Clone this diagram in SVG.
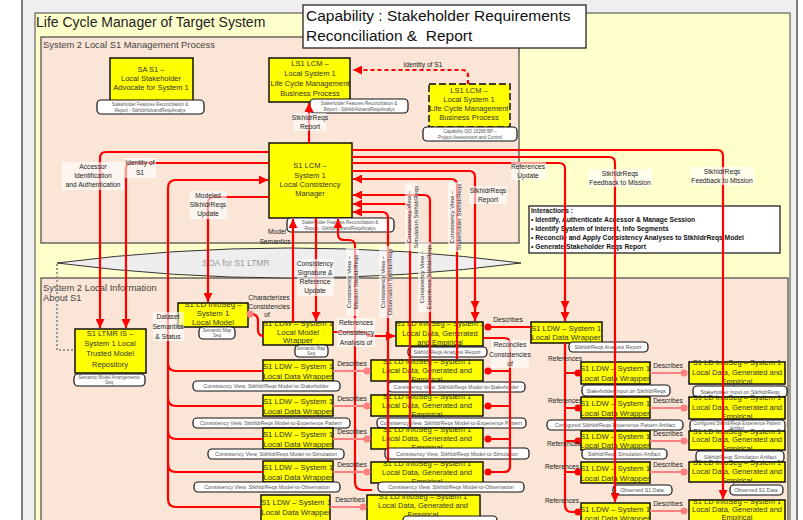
<svg xmlns="http://www.w3.org/2000/svg" width="803" height="520" viewBox="0 0 803 520">
<defs>
<style>
text{font-family:"Liberation Sans",Arial,sans-serif}
.nd{fill:#ffff00;stroke:#000;stroke-width:1.4}
.ndd{fill:#ffff00;stroke:#000;stroke-width:1.4;stroke-dasharray:7 3}
.nt{fill:#333;text-anchor:middle;font-size:7.5px}
.wt{fill:#333;text-anchor:middle;font-size:7.8px}
.lb{fill:#fff;stroke:#111;stroke-width:1.2}
.lt{fill:#555;text-anchor:middle;font-size:5.3px}
.ls{fill:#555;text-anchor:middle;font-size:4.5px}
.e{fill:none;stroke:#f00;stroke-width:2.2}
.ed{fill:none;stroke:#ff8080;stroke-width:2}
.el{fill:#222;font-size:6.7px;text-anchor:middle}
.vl{fill:#222;font-size:6px;text-anchor:middle}
.bg{fill:#fff;fill-opacity:.6}
</style>
<marker id="ah" viewBox="0 0 10 10" refX="10" refY="5" markerWidth="10" markerHeight="9" markerUnits="userSpaceOnUse" orient="auto"><path d="M0,0L10,5L0,10z" fill="#f00"/></marker>
<marker id="pd" viewBox="0 0 8 8" refX="4" refY="4" markerWidth="8" markerHeight="8" markerUnits="userSpaceOnUse"><circle cx="4" cy="4" r="3.5" fill="#ff8080"/></marker>
<marker id="rd" viewBox="0 0 8 8" refX="4" refY="4" markerWidth="8" markerHeight="8" markerUnits="userSpaceOnUse"><circle cx="4" cy="4" r="3.5" fill="#f00"/></marker>
</defs>

<!-- frames and panels -->
<rect x="0" y="0" width="803" height="520" fill="#fff"/>
<rect x="22" y="-4" width="775" height="530" fill="#efefef" stroke="#7f7f7f" stroke-width="2"/>
<rect x="35" y="13" width="755" height="520" fill="#ffffcc" stroke="#444" stroke-width="1"/>
<text x="36" y="27" font-size="14" fill="#222">Life Cycle Manager of Target System</text>
<rect x="41" y="37" width="478" height="206" fill="#fbe5d6" stroke="#444" stroke-width="1.2"/>
<text x="43" y="48" font-size="9.4" fill="#444">System 2 Local S1 Management Process</text>
<rect x="41" y="278" width="747" height="250" fill="#fbe5d6" stroke="#444" stroke-width="1.2"/>
<text x="43" y="291" font-size="9.4" fill="#444">System 2 Local Information</text>
<text x="43" y="301" font-size="9.4" fill="#444">About S1</text>
<path d="M57,263 Q290,233 521,263 Q290,293 57,263 Z" fill="#eeeeee" stroke="#333" stroke-width="1"/>
<text x="236" y="266" font-size="8.5" fill="#999" text-anchor="middle">SOA for S1 LTMR</text>
<path d="M57,264 V350 H76" fill="none" stroke="#999" stroke-width="2" stroke-dasharray="2 2"/>

<!-- interactions note -->
<g id="interactions">
<rect x="529" y="206" width="251" height="47" fill="#fff" stroke="#222" stroke-width="1.3"/>
<g font-size="6.7" font-weight="bold" fill="#111">
<text x="531" y="213">Interactions :</text>
<text x="531" y="222">• Identify, Authenticate Accessor &amp; Manage Session</text>
<text x="531" y="231">• Identify System of Interest, Info Segments</text>
<text x="531" y="240">• Reconcile and Apply Consistency Analyses to StkhldrReqs Model</text>
<text x="531" y="249">• Generate Stakeholder Reqs Report</text>
</g>
</g>

<!-- management process nodes -->
<g id="sa-s1">
<rect class="nd" x="110" y="58" width="83" height="44"/>
<text class="nt" x="151" y="72">SA S1 –</text>
<text class="nt" x="151" y="81">Local Stakeholder</text>
<text class="nt" x="151" y="90">Advocate for System 1</text>
<rect class="lb" x="97" y="100" width="107" height="14" rx="4"/>
<text class="ls" x="150" y="106">Stakeholder Features Reconciliation &amp;</text>
<text class="ls" x="150" y="111.5">Report - StkhldrAdvandReqsAnalys</text>
</g>
<g id="ls1-lcm">
<rect class="nd" x="269" y="58" width="81" height="44"/>
<text class="nt" x="310" y="66">LS1 LCM –</text>
<text class="nt" x="310" y="76">Local System 1</text>
<text class="nt" x="310" y="86">Life Cycle Management</text>
<text class="nt" x="310" y="96">Business Process</text>
<rect class="lb" x="310" y="99" width="98" height="14" rx="4"/>
<text class="ls" x="359" y="105">Stakeholder Features Reconciliation &amp;</text>
<text class="ls" x="359" y="110.5">Report - StkhldrAdvandReqsAnalys</text>
</g>
<g id="ls1-lcm-bp">
<rect class="ndd" x="429" y="84" width="81" height="43"/>
<text class="nt" x="469" y="93">LS1 LCM –</text>
<text class="nt" x="469" y="102">Local System 1</text>
<text class="nt" x="469" y="111">Life Cycle Management</text>
<text class="nt" x="469" y="120">Business Process</text>
<rect class="lb" x="423" y="127" width="94" height="14" rx="4"/>
<text class="ls" x="470" y="133">Capability ISO 15288 BP –</text>
<text class="ls" x="470" y="138.5">Project Assessment and Control</text>
</g>
<g id="s1-lcm">
<rect class="nd" x="269" y="143" width="83" height="75"/>
<text class="nt" x="310" y="168" font-size="8">S1 LCM –</text>
<text class="nt" x="310" y="178" font-size="8">System 1</text>
<text class="nt" x="310" y="187" font-size="8">Local Consistency</text>
<text class="nt" x="310" y="196" font-size="8">Manager</text>
<rect class="lb" x="287" y="218" width="107" height="14" rx="4"/>
<text class="ls" x="340" y="224">Stakeholder Features Reconciliation &amp;</text>
<text class="ls" x="340" y="229.5">Report - StkhldrAdvandReqsAnalys</text>
</g>

<!-- local information nodes -->
<g id="s1-ltmr">
<rect class="nd" x="75" y="329" width="71" height="44"/>
<text class="nt" x="110" y="336" font-size="8">S1 LTMR IS –</text>
<text class="nt" x="110" y="346" font-size="8">System 1 Local</text>
<text class="nt" x="110" y="356" font-size="8">Trusted Model</text>
<text class="nt" x="110" y="367" font-size="8">Repository</text>
<rect class="lb" x="74" y="374" width="71" height="12" rx="4"/>
<text class="ls" x="109" y="379">Semantic Model Arrangements</text>
<text class="ls" x="109" y="384">Seq</text>
</g>
<g id="ld-local-model">
<rect class="nd" x="178" y="303" width="70" height="24"/>
<text class="wt" x="213" y="307">S1 LD InfoSeg –</text>
<text class="wt" x="213" y="316">System 1</text>
<text class="wt" x="213" y="325">Local Model</text>
<rect class="lb" x="199" y="327" width="36" height="12" rx="4"/>
<text class="ls" x="217" y="332">Semantic Map</text>
<text class="ls" x="217" y="337">Seq</text>
</g>
<g id="ldw-local-model">
<rect class="nd" x="263" y="322" width="70" height="23"/>
<text class="wt" x="298" y="326">S1 LDW – System 1</text>
<text class="wt" x="298" y="335">Local Model</text>
<text class="wt" x="298" y="343">Wrapper</text>
<rect class="lb" x="295" y="345" width="33" height="12" rx="4"/>
<text class="ls" x="311" y="350">Semantic Map</text>
<text class="ls" x="311" y="355">Seq</text>
</g>

<!-- wrapper column -->
<g id="ldw-a1">
<rect class="nd" x="263" y="360" width="70" height="21"/>
<text class="wt" x="298" y="369">S1 LDW – System 1</text>
<text class="wt" x="298" y="379">Local Data Wrapper</text>
<rect class="lb" x="193" y="381" width="147" height="10" rx="4"/>
<text class="lt" x="266" y="388">Consistency View, StkhldrReqs Model-to-Stakeholder</text>
</g>
<g id="ldw-a2">
<rect class="nd" x="263" y="395" width="70" height="21"/>
<text class="wt" x="298" y="404">S1 LDW – System 1</text>
<text class="wt" x="298" y="414">Local Data Wrapper</text>
<rect class="lb" x="193" y="418" width="157" height="10" rx="4"/>
<text class="lt" x="271" y="425">Consistency View, StkhldrReqs Model-to-Experience Pattern</text>
</g>
<g id="ldw-a3">
<rect class="nd" x="263" y="428" width="70" height="21"/>
<text class="wt" x="298" y="437">S1 LDW – System 1</text>
<text class="wt" x="298" y="447">Local Data Wrapper</text>
<rect class="lb" x="208" y="449" width="136" height="10" rx="4"/>
<text class="lt" x="276" y="456">Consistency View, StkhldrReqs Model-to-Simulation</text>
</g>
<g id="ldw-a4">
<rect class="nd" x="263" y="461" width="70" height="21"/>
<text class="wt" x="298" y="470">S1 LDW – System 1</text>
<text class="wt" x="298" y="480">Local Data Wrapper</text>
<rect class="lb" x="194" y="482" width="146" height="10" rx="4"/>
<text class="lt" x="267" y="489">Consistency View, StkhldrReqs Model-to-Observation</text>
</g>
<g id="ldw-a5">
<rect class="nd" x="261" y="495" width="69" height="28"/>
<text class="wt" x="296" y="505">S1 LDW – System 1</text>
<text class="wt" x="296" y="515">Local Data Wrapper</text>
</g>

<!-- info segment column -->
<g id="ld-b0">
<rect class="nd" x="396" y="322" width="87" height="24"/>
<text class="nt" x="440" y="326">S1 LD InfoSeg – System 1</text>
<text class="nt" x="440" y="336">Local Data, Generated</text>
<text class="nt" x="440" y="345">and Empirical</text>
<rect class="lb" x="408" y="347" width="79" height="10" rx="4"/>
<text class="lt" x="447" y="354">StkhldrReqs Analysis Report</text>
</g>
<g id="ld-b1">
<rect class="nd" x="371" y="360" width="112" height="21"/>
<text class="nt" x="427" y="364">S1 LD InfoSeg – System 1</text>
<text class="nt" x="427" y="373">Local Data, Generated and</text>
<text class="nt" x="427" y="382">Empirical</text>
<rect class="lb" x="388" y="382" width="137" height="10" rx="4"/>
<text class="lt" x="456" y="389">Consistency View, StkhldrReqs Model-to-Stakeholder</text>
</g>
<g id="ld-b2">
<rect class="nd" x="371" y="395" width="112" height="21"/>
<text class="nt" x="427" y="399">S1 LD InfoSeg – System 1</text>
<text class="nt" x="427" y="408">Local Data, Generated and</text>
<text class="nt" x="427" y="417">Empirical</text>
<rect class="lb" x="377" y="418" width="149" height="10" rx="4"/>
<text class="lt" x="451" y="425">Consistency View, StkhldrReqs Model-to-Experience Pattern</text>
</g>
<g id="ld-b3">
<rect class="nd" x="371" y="428" width="112" height="21"/>
<text class="nt" x="427" y="432">S1 LD InfoSeg – System 1</text>
<text class="nt" x="427" y="441">Local Data, Generated and</text>
<text class="nt" x="427" y="450">Empirical</text>
<rect class="lb" x="385" y="448" width="144" height="11" rx="4"/>
<text class="lt" x="457" y="455.5">Consistency View, StkhldrReqs Model-to-Simulation</text>
</g>
<g id="ld-b4">
<rect class="nd" x="371" y="462" width="112" height="21"/>
<text class="nt" x="427" y="466">S1 LD InfoSeg – System 1</text>
<text class="nt" x="427" y="475">Local Data, Generated and</text>
<text class="nt" x="427" y="484">Empirical</text>
<rect class="lb" x="378" y="482" width="146" height="10" rx="4"/>
<text class="lt" x="451" y="489">Consistency View, StkhldrReqs Model-to-Observation</text>
</g>
<g id="ld-b5">
<rect class="nd" x="367" y="495" width="113" height="26"/>
<text class="nt" x="423" y="499">S1 LD InfoSeg – System 1</text>
<text class="nt" x="423" y="508">Local Data, Generated and</text>
<text class="nt" x="423" y="517">Empirical</text>
<rect class="lb" x="403" y="516" width="94" height="10" rx="4"/>
</g>

<!-- right wrapper column -->
<g id="ldw-c0">
<rect class="nd" x="531" y="322" width="71" height="21"/>
<text class="wt" x="566" y="331">S1 LDW – System 1</text>
<text class="wt" x="566" y="340">Local Data Wrapper</text>
<rect class="lb" x="569" y="342" width="79" height="10" rx="4"/>
<text class="lt" x="608" y="349">StkhldrReqs Analysis Report</text>
</g>
<g id="ldw-c1">
<rect class="nd" x="581" y="362" width="69" height="22"/>
<text class="wt" x="615" y="371">S1 LDW – System 1</text>
<text class="wt" x="615" y="381">Local Data Wrapper</text>
<rect class="lb" x="582" y="385" width="88" height="11" rx="4"/>
<text class="lt" x="626" y="392.5">Stakeholder Input on StkhldrReqs</text>
</g>
<g id="ldw-c2">
<rect class="nd" x="581" y="397" width="69" height="21"/>
<text class="wt" x="615" y="406">S1 LDW – System 1</text>
<text class="wt" x="615" y="416">Local Data Wrapper</text>
<rect class="lb" x="547" y="420" width="136" height="10" rx="4"/>
<text class="lt" x="615" y="427">Configured StkhldrReqs Experience Pattern Artifact</text>
</g>
<g id="ldw-c3">
<rect class="nd" x="581" y="431" width="69" height="19"/>
<text class="wt" x="615" y="439">S1 LDW – System 1</text>
<text class="wt" x="615" y="448">Local Data Wrapper</text>
<rect class="lb" x="582" y="449" width="85" height="10" rx="4"/>
<text class="lt" x="624" y="456">StkhldrReqs Simulation Artifact</text>
</g>
<g id="ldw-c4">
<rect class="nd" x="581" y="462" width="69" height="21"/>
<text class="wt" x="615" y="471">S1 LDW – System 1</text>
<text class="wt" x="615" y="481">Local Data Wrapper</text>
<rect class="lb" x="613" y="485" width="59" height="10" rx="4"/>
<text class="lt" x="642" y="492">Observed S1 Data</text>
</g>
<g id="ldw-c5">
<rect class="nd" x="581" y="503" width="69" height="22"/>
<text class="wt" x="615" y="512">S1 LDW – System 1</text>
<text class="wt" x="615" y="521">Local Data Wrapper</text>
</g>

<!-- right info segment column -->
<g id="ld-d1">
<rect class="nd" x="689" y="362" width="96" height="22"/>
<text class="nt" x="737" y="365">S1 LD InfoSeg – System 1</text>
<text class="nt" x="737" y="375">Local Data, Generated and</text>
<text class="nt" x="737" y="384">Empirical</text>
<rect class="lb" x="693" y="386" width="94" height="11" rx="4"/>
<text class="lt" x="740" y="393.5">Stakeholder Input on StkhldrReqs</text>
</g>
<g id="ld-d2">
<rect class="nd" x="689" y="397" width="96" height="22"/>
<text class="nt" x="737" y="400">S1 LD InfoSeg – System 1</text>
<text class="nt" x="737" y="410">Local Data, Generated and</text>
<text class="nt" x="737" y="418.5">Empirical</text>
<rect class="lb" x="690" y="420" width="95" height="12" rx="4"/>
<text class="ls" x="737" y="425" font-size="4.2">Configured StkhldrReqs Experience Pattern</text>
<text class="ls" x="737" y="430" font-size="4.2">Artifact</text>
</g>
<g id="ld-d3">
<rect class="nd" x="689" y="431" width="96" height="19"/>
<text class="nt" x="737" y="434">S1 LD InfoSeg – System 1</text>
<text class="nt" x="737" y="442">Local Data, Generated and</text>
<text class="nt" x="737" y="450.5">Empirical</text>
<rect class="lb" x="696" y="451" width="88" height="11" rx="4"/>
<text class="lt" x="740" y="458.5">StkhldrReqs Simulation Artifact</text>
</g>
<g id="ld-d4">
<rect class="nd" x="689" y="462" width="96" height="20"/>
<text class="nt" x="737" y="465">S1 LD InfoSeg – System 1</text>
<text class="nt" x="737" y="474">Local Data, Generated and</text>
<text class="nt" x="737" y="483">Empirical</text>
<rect class="lb" x="730" y="485" width="53" height="10" rx="4"/>
<text class="lt" x="756" y="492">Observed S1 Data</text>
</g>
<g id="ld-d5">
<rect class="nd" x="689" y="500" width="96" height="25"/>
<text class="nt" x="737" y="504">S1 LD InfoSeg – System 1</text>
<text class="nt" x="737" y="512">Local Data, Generated and</text>
<text class="nt" x="737" y="520">Empirical</text>
</g>

<!-- connectors -->
<g id="connectors">
<path class="e" d="M309,143 V103" marker-end="url(#ah)"/>
<path class="e" stroke-dasharray="4 3" d="M468,84 V76 Q468,70 462,70 H353" marker-end="url(#ah)"/>
<path class="e" d="M269,152 H106 Q100,152 100,158 V328" marker-end="url(#ah)"/>
<path class="e" d="M269,163 H132 Q126,163 126,169 V328" marker-end="url(#ah)"/>
<path class="e" d="M261,507 H176 Q168,507 168,499 V188 Q168,180 176,180 H268" marker-end="url(#ah)"/>
<path class="e" d="M168,363 Q168,371 176,371 H263 M168,398 Q168,406 176,406 H263 M168,431 Q168,439 176,439 H263 M168,464 Q168,472 176,472 H263"/>
<path class="e" d="M269,197 H214 Q208,197 208,203 V302" marker-end="url(#ah)"/>
<path class="e" d="M316,218 V321" marker-end="url(#ah)"/>
<path class="e" d="M293,322 V219" marker-end="url(#ah)"/>
<path class="e" d="M251,314 Q258,314 258,321 V330 Q258,336 264,336"/>
<circle cx="250" cy="314" r="3.5" fill="#ff8080"/>
<path class="e" d="M333,332 H361 Q366,332 368,336 H395" marker-end="url(#ah)"/>
<path class="e" d="M372,490 H363 Q355,490 355,482 V246 Q355,240 349,240 H344 Q338,240 338,234 V219" marker-end="url(#ah)"/>
<path class="e" d="M388,461 V218 Q388,212 382,212 H353" marker-end="url(#ah)"/>
<path class="e" d="M410,427 V210 Q410,204 404,204 H353" marker-end="url(#ah)"/>
<path class="e" d="M430,394 V201 Q430,195 424,195 H353" marker-end="url(#ah)"/>
<path class="e" d="M457,359 V185 Q457,179 451,179 H353" marker-end="url(#ah)"/>
<path class="e" d="M352,171 H469 Q475,171 475,177 V321" marker-end="url(#ah)"/>
<path class="e" d="M475,300 V310" marker-end="url(#ah)"/>
<path class="e" d="M352,163 H559 Q565,163 565,169 V321" marker-end="url(#ah)"/>
<path class="e" d="M565,300 V310" marker-end="url(#ah)"/>
<path class="e" d="M352,157 H609 Q615,157 615,163 V502" marker-end="url(#ah)"/>
<path class="e" d="M352,150 H717 Q723,150 723,156 V499" marker-end="url(#ah)"/>
<!-- references bus -->
<path class="e" d="M565,343 V505 Q565,512 572,512 H578" marker-end="url(#rd)"/>
<path class="e" d="M565,373 H578 M565,408 H578 M565,441 H578 M565,472 H578"/>
<g fill="#f00"><circle cx="578" cy="373" r="3.5"/><circle cx="578" cy="408" r="3.5"/><circle cx="578" cy="441" r="3.5"/><circle cx="578" cy="472" r="3.5"/></g>
<!-- reconciles bus -->
<path class="e" d="M483,338 H504 Q510,338 510,344 V466 Q510,472 504,472 H488" marker-end="url(#rd)"/>
<path class="e" d="M510,371 H488 M510,406 H488 M510,439 H488"/>
<g fill="#f00"><circle cx="488" cy="371" r="3.5"/><circle cx="488" cy="406" r="3.5"/><circle cx="488" cy="439" r="3.5"/></g>
<path class="e" d="M531,327 H488" marker-end="url(#rd)"/>
<!-- describes links -->
<path class="ed" d="M333,371 H367" marker-end="url(#pd)"/>
<path class="ed" d="M333,406 H367" marker-end="url(#pd)"/>
<path class="ed" d="M333,439 H367" marker-end="url(#pd)"/>
<path class="ed" d="M333,472 H367" marker-end="url(#pd)"/>
<path class="ed" d="M330,507 H363" marker-end="url(#pd)"/>
<path class="ed" d="M650,373 H684" marker-end="url(#pd)"/>
<path class="ed" d="M650,408 H684" marker-end="url(#pd)"/>
<path class="ed" d="M650,441 H684" marker-end="url(#pd)"/>
<path class="ed" d="M650,472 H684" marker-end="url(#pd)"/>
<path class="ed" d="M650,511 H684" marker-end="url(#pd)"/>
</g>

<!-- connector labels -->
<g id="connector-labels">
<rect class="bg" x="294" y="113" width="32" height="18"/>
<text class="el" x="310" y="120">StkhldrReqs</text><text class="el" x="310" y="129">Report</text>
<text class="el" x="423" y="67">Identity of S1</text>
<rect class="bg" x="62" y="162" width="62" height="28"/>
<text class="el" x="93" y="169">Accessor</text><text class="el" x="93" y="178">Identification</text><text class="el" x="93" y="187">and Authentication</text>
<rect class="bg" x="125" y="158" width="31" height="20"/>
<text class="el" x="140" y="165">Identity of</text><text class="el" x="140" y="175">S1</text>
<rect class="bg" x="190" y="191" width="37" height="28"/>
<text class="el" x="208" y="198">Modeled</text><text class="el" x="208" y="207">StkhldrReqs</text><text class="el" x="208" y="216">Update</text>
<text class="el" x="277" y="234">Model</text><text class="el" x="275" y="244">Semantics</text>
<rect class="bg" x="297" y="259" width="37" height="37"/>
<text class="el" x="315" y="266">Consistency</text><text class="el" x="315" y="275">Signature &amp;</text><text class="el" x="315" y="284">Reference</text><text class="el" x="315" y="293">Update</text>
<rect class="bg" x="511" y="162" width="35" height="18"/>
<text class="el" x="528" y="169">References</text><text class="el" x="528" y="178">Update</text>
<rect class="bg" x="469" y="186" width="38" height="18"/>
<text class="el" x="488" y="193">StkhldrReqs</text><text class="el" x="488" y="202">Report</text>
<rect class="bg" x="588" y="169" width="64" height="18"/>
<text class="el" x="620" y="176">StkhldrReqs</text><text class="el" x="620" y="185">Feedback to Mission</text>
<rect class="bg" x="690" y="167" width="64" height="18"/>
<text class="el" x="722" y="174">StkhldrReqs</text><text class="el" x="722" y="183">Feedback to Mission</text>
<rect class="bg" x="346" y="248" width="13" height="68"/>
<text class="vl" transform="translate(352,282) rotate(-90)"><tspan x="0" y="-1.5">Consistency View –</tspan><tspan x="0" y="6">Mission StkhldrReqs</tspan></text>
<rect class="bg" x="379" y="246" width="13" height="72"/>
<text class="vl" transform="translate(386,282) rotate(-90)"><tspan x="0" y="-1.5">Consistency View –</tspan><tspan x="0" y="6">Observation StkhldrReqs</tspan></text>
<rect class="bg" x="405" y="183" width="13" height="68"/>
<text class="vl" transform="translate(412,217) rotate(-90)"><tspan x="0" y="-1.5">Consistency View –</tspan><tspan x="0" y="6">Simulation StkhldrReqs</tspan></text>
<rect class="bg" x="418" y="242" width="13" height="70"/>
<text class="vl" transform="translate(425,277) rotate(-90)"><tspan x="0" y="-1.5">Consistency View –</tspan><tspan x="0" y="6">Experience StkhldrReqs</tspan></text>
<rect class="bg" x="448" y="182" width="13" height="70"/>
<text class="vl" transform="translate(455,217) rotate(-90)"><tspan x="0" y="-1.5">Consistency View –</tspan><tspan x="0" y="6">Stakeholder StkhldrReqs</tspan></text>
<rect class="bg" x="153" y="312" width="31" height="29"/>
<text class="el" x="168" y="319">Dataset</text><text class="el" x="168" y="329">Semantics</text><text class="el" x="168" y="339">&amp; Status</text>
<text class="el" x="269" y="300">Characterizes</text><text class="el" x="269" y="309">Consistencies</text><text class="el" x="267" y="317">of</text>
<rect class="bg" x="337" y="318" width="38" height="29"/>
<text class="el" x="356" y="325">References</text><text class="el" x="356" y="335">Consistency</text><text class="el" x="356" y="345">Analysis of</text>
<text class="el" x="508" y="322">Describes</text>
<rect class="bg" x="491" y="340" width="38" height="28"/>
<text class="el" x="510" y="347">Reconciles</text><text class="el" x="510" y="357">Consistencies</text><text class="el" x="510" y="366">of</text>
<text class="el" x="352" y="366">Describes</text>
<text class="el" x="352" y="401">Describes</text>
<text class="el" x="352" y="434">Describes</text>
<text class="el" x="352" y="467">Describes</text>
<text class="el" x="350" y="502">Describes</text>
<text class="el" x="668" y="368">Describes</text>
<text class="el" x="668" y="403">Describes</text>
<text class="el" x="668" y="436">Describes</text>
<text class="el" x="668" y="467">Describes</text>
<text class="el" x="668" y="506">Describes</text>
<text class="el" x="565" y="361">References</text>
<text class="el" x="565" y="403">References</text>
<text class="el" x="564" y="446">References</text>
<text class="el" x="562" y="469">References</text>
<text class="el" x="562" y="503">References</text>
</g>

<!-- capability banner -->
<g id="capability">
<rect x="303" y="5" width="283" height="43" fill="#fff" stroke="#222" stroke-width="1.3"/>
<text x="306" y="21" font-size="15.5" fill="#111">Capability : Stakeholder Requirements</text>
<text x="306" y="41" font-size="15.5" fill="#111">Reconciliation &amp;&#160; Report</text>
</g>
</svg>
